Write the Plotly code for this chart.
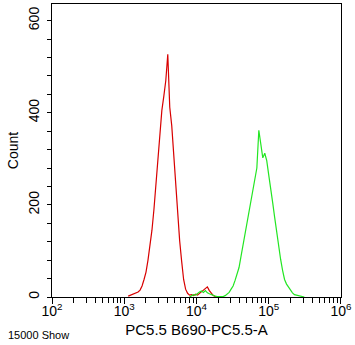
import numpy as np
import plotly.graph_objects as go

# Histogram channels: 146 log-spaced channels spanning 10^2 .. 10^6
N_CHANNELS = 146
LOG_MIN, LOG_MAX = 2.0, 6.0

# Red (control) histogram: first channel index and counts
red_start_channel = 38
red_counts = [2, 4, 5, 7, 9, 11, 15, 24, 38, 54, 80, 108, 145, 190, 245, 312,
              362, 405, 436, 470, 527, 412, 372, 306, 248, 175, 122, 78, 38, 17,
              8, 4, 5, 3, 6, 4, 8, 12, 16, 20, 22, 14, 8, 3, 1, 0]

# Green (stained) histogram
green_start_channel = 69
green_counts = [0, 3, 5, 4, 8, 11, 13, 10, 14, 9, 7, 5, 3, 2, 1, 1, 2, 1, 3, 6,
                10, 17, 24, 36, 50, 64, 88, 112, 138, 160, 187, 215, 236, 258,
                280, 362, 326, 302, 312, 296, 265, 238, 205, 173, 140, 110, 82,
                58, 38, 28, 21, 13, 9, 5, 4, 3, 2, 1, 0]

x_tick_vals = [1e2, 1e3, 1e4, 1e5, 1e6]
x_tick_text = ["10<sup>2</sup>", "10<sup>3</sup>", "10<sup>4</sup>",
               "10<sup>5</sup>", "10<sup>6</sup>"]
y_tick_vals = [0, 200, 400, 600]

x_title = "PC5.5 B690-PC5.5-A"
y_title = "Count"
event_note = "15000 Show"

ch_width = (LOG_MAX - LOG_MIN) / N_CHANNELS


def channel_x(start, n):
    idx = np.arange(start, start + n)
    return 10 ** (LOG_MIN + (idx + 0.5) * ch_width)


FONT = "Liberation Sans, Arial, sans-serif"

fig = go.Figure()
fig.add_trace(go.Scatter(x=channel_x(red_start_channel, len(red_counts)),
                         y=red_counts, mode="lines",
                         line=dict(color="#d80000", width=1.2),
                         showlegend=False, hoverinfo="skip"))
fig.add_trace(go.Scatter(x=channel_x(green_start_channel, len(green_counts)),
                         y=green_counts, mode="lines",
                         line=dict(color="#22e622", width=1.2),
                         showlegend=False, hoverinfo="skip"))

minor_x = [m * 10 ** d for d in range(2, 6) for m in range(2, 10)]

fig.update_layout(
    width=355, height=345,
    margin=dict(l=52, r=11, t=3, b=48),
    paper_bgcolor="white", plot_bgcolor="white",
    font=dict(family=FONT, size=14, color="black"),
    xaxis=dict(type="log", range=[LOG_MIN, LOG_MAX + 0.0005],
               tickmode="array", tickvals=x_tick_vals, ticktext=x_tick_text,
               ticks="outside", ticklen=6, tickcolor="black", tickwidth=1,
               ticklabelstandoff=-5, ticklabeloverflow="allow",
               minor=dict(tickmode="array", tickvals=minor_x, ticks="outside",
                          ticklen=5, tickcolor="black", showgrid=False),
               showgrid=False, zeroline=False,
               showline=True, linecolor="black", linewidth=1, mirror=True,
               tickfont=dict(size=14),
               title=dict(text=x_title, font=dict(size=15), standoff=6)),
    yaxis=dict(range=[0, 636], tickmode="array", tickvals=y_tick_vals,
               ticks="outside", ticklen=4, tickcolor="black", tickwidth=1,
               ticklabelstandoff=2,
               minor=dict(dtick=40, ticks="outside", ticklen=4,
                          tickcolor="black", showgrid=False),
               tickangle=-90, showgrid=False, zeroline=False,
               showline=True, linecolor="black", linewidth=1, mirror=True,
               tickfont=dict(size=14),
               title=dict(text=y_title, font=dict(size=14), standoff=4)),
    annotations=[dict(text=event_note, xref="paper", yref="paper",
                      x=-0.16, y=-0.102, xanchor="left", yanchor="top",
                      showarrow=False, font=dict(size=11))],
)

fig.write_html("out.html")
